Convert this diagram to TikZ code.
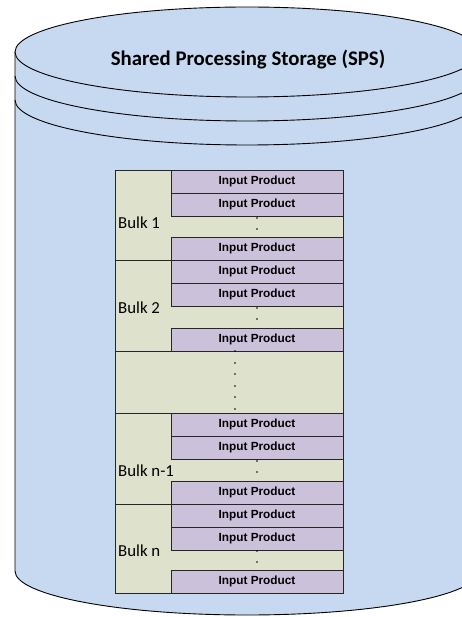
\documentclass[tikz,border=0pt]{standalone}
\usepackage{fontspec}
\setmainfont{Carlito}
\newfontfamily\prodfont{Liberation Sans}
\definecolor{cylblue}{HTML}{C6D9F1}
\definecolor{bulkgreen}{HTML}{DEE2CC}
\definecolor{prodpurple}{HTML}{CCC1DA}
\begin{document}
\begin{tikzpicture}[x=1pt,y=-1pt,
  cylline/.style={draw=black,line width=0.9pt},
  bulkbox/.style={draw=black!85,line width=0.8pt,fill=bulkgreen,rectangle,inner sep=0pt,outer sep=0pt,minimum width=228pt,anchor=north west},
  prodbox/.style={draw=black!85,line width=0.8pt,fill=prodpurple,rectangle,inner sep=0pt,outer sep=0pt,minimum width=172pt,minimum height=23pt,anchor=north west,font=\prodfont\bfseries\fontsize{11.8}{12}\selectfont},
  bulklabel/.style={anchor=west,inner sep=0pt,font=\fontsize{16.8}{18}\selectfont},
  dotmark/.style={fill=black}
]
\useasboundingbox (0,0) rectangle (462,617);
\clip (0,0) rectangle (462,617);
% cylinder
\fill[cylblue] (15,52) -- (15,571) arc[start angle=180,end angle=0,x radius=232,y radius=44] -- (479,52) arc[start angle=0,end angle=-180,x radius=232,y radius=45] -- cycle;
\draw[cylline] (15,52) -- (15,571) arc[start angle=180,end angle=0,x radius=232,y radius=44] -- (479,52);
\draw[cylline] (247,52) ellipse[x radius=232,y radius=45];
\draw[cylline] (15,76) arc[start angle=180,end angle=0,x radius=232,y radius=45];
\draw[cylline] (15,100) arc[start angle=180,end angle=0,x radius=232,y radius=45];
\node[font=\bfseries\fontsize{20.8}{24}\selectfont] (title) at (248,60) {Shared Processing Storage (SPS)};
% bulks
\node[bulkbox,minimum height=90pt] (bulk1) at (115,170) {};
\node[bulkbox,minimum height=91pt] (bulk2) at (115,260) {};
\node[bulkbox,minimum height=62pt] (mid) at (115,351) {};
\node[bulkbox,minimum height=91pt] (bulkn1) at (115,413) {};
\node[bulkbox,minimum height=89pt] (bulkn) at (115,504) {};
% products
\node[prodbox] (p11) at (171,170) {Input Product};
\node[prodbox] (p12) at (171,193) {Input Product};
\node[prodbox] (p13) at (171,237) {Input Product};
\node[prodbox] (p21) at (171,260) {Input Product};
\node[prodbox] (p22) at (171,283) {Input Product};
\node[prodbox] (p23) at (171,328) {Input Product};
\node[prodbox] (p31) at (171,413) {Input Product};
\node[prodbox] (p32) at (171,436) {Input Product};
\node[prodbox] (p33) at (171,481) {Input Product};
\node[prodbox] (p41) at (171,504) {Input Product};
\node[prodbox] (p42) at (171,527) {Input Product};
\node[prodbox] (p43) at (171,570) {Input Product};
% labels
\node[bulklabel] (l1) at (118,222.5) {Bulk 1};
\node[bulklabel] (l2) at (118,307.5) {Bulk 2};
\node[bulklabel] (l3) at (118,471) {Bulk n-1};
\node[bulklabel] (l4) at (118,551) {Bulk n};
% dots
\foreach \y in {218,229,308,319,461,472,551,562}{\fill[dotmark] (257,\y) circle[radius=0.9];}
\foreach \y in {351,363,374,386,397,409}{\fill[dotmark] (235,\y) circle[radius=0.9];}
\end{tikzpicture}
\end{document}
